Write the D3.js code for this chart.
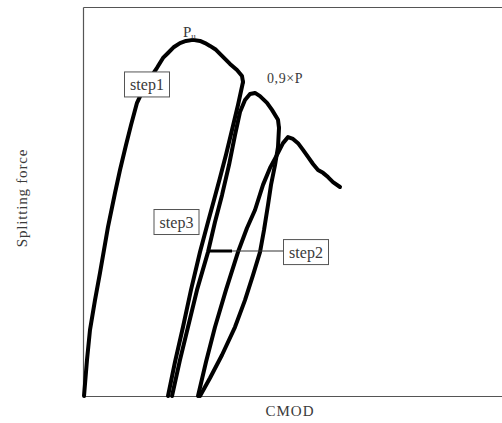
<!DOCTYPE html>
<html>
<head>
<meta charset="utf-8">
<script src="https://cdn.jsdelivr.net/npm/d3@7"></script>
<style>
  body { margin: 0; background: #fff; }
  text { font-family: "Liberation Serif", "DejaVu Serif", serif; fill: #3a3a3a; }
</style>
</head>
<body>
<div id="chart-area"></div>
<script>
// CMOD (arbitrary units) and splitting force (P / Pu)
var step1Load = [
  [0.01, 0], [0.04, 0.102], [0.07, 0.187], [0.12, 0.271], [0.17, 0.348],
  [0.21, 0.413], [0.25, 0.478], [0.32, 0.574], [0.37, 0.639], [0.43, 0.710],
  [0.48, 0.766], [0.54, 0.829], [0.60, 0.865], [0.67, 0.899], [0.74, 0.928],
  [0.80, 0.956], [0.85, 0.970], [0.91, 0.987], [0.97, 0.998], [1.03, 1.004],
  [1.10, 1.007], [1.17, 1.004], [1.22, 0.998], [1.27, 0.990], [1.33, 0.979],
  [1.40, 0.959], [1.47, 0.939], [1.54, 0.922], [1.59, 0.905], [1.60, 0.888]
];
var step1Unload = [
  [1.60, 0.888], [1.55, 0.823], [1.49, 0.752], [1.43, 0.682], [1.37, 0.617],
  [1.31, 0.554], [1.25, 0.492], [1.17, 0.407], [1.08, 0.300], [1.00, 0.195],
  [0.92, 0.096], [0.85, 0]
];
var step2Load = [
  [0.89, 0], [0.97, 0.102], [1.05, 0.195], [1.14, 0.300], [1.25, 0.407],
  [1.32, 0.492], [1.39, 0.568], [1.46, 0.653], [1.52, 0.738], [1.57, 0.803],
  [1.62, 0.837], [1.67, 0.854], [1.72, 0.857], [1.77, 0.848], [1.84, 0.829],
  [1.89, 0.809], [1.95, 0.781], [1.96, 0.758]
];
var step2Unload = [
  [1.96, 0.758], [1.95, 0.704], [1.92, 0.653], [1.88, 0.597], [1.85, 0.540],
  [1.81, 0.469], [1.77, 0.407], [1.70, 0.342], [1.62, 0.271], [1.52, 0.195],
  [1.39, 0.116], [1.27, 0.051], [1.17, 0]
];
var step3Load = [
  [1.15, 0], [1.23, 0.096], [1.32, 0.195], [1.43, 0.300], [1.55, 0.407],
  [1.64, 0.475], [1.72, 0.526], [1.80, 0.597], [1.87, 0.645], [1.94, 0.682],
  [2.00, 0.715], [2.05, 0.732], [2.10, 0.727], [2.15, 0.715], [2.20, 0.696],
  [2.25, 0.676], [2.30, 0.656], [2.35, 0.639], [2.40, 0.631], [2.45, 0.619],
  [2.50, 0.605], [2.57, 0.591]
];
var curves = [step1Load, step1Unload, step2Load, step2Unload, step3Load];

var stepLabels = ["step1", "step2", "step3"];
var xLabel = "CMOD";
var yLabel = "Splitting force";

const MARGIN = { LEFT: 83, RIGHT: 0, TOP: 7, BOTTOM: 27 }
const W = 502, H = 423
const WIDTH = W - MARGIN.LEFT - MARGIN.RIGHT
const HEIGHT = H - MARGIN.TOP - MARGIN.BOTTOM

const svg = d3.select("#chart-area").append("svg")
  .attr("width", W)
  .attr("height", H)

const g = svg.append("g")
  .attr("transform", `translate(${MARGIN.LEFT}, ${MARGIN.TOP})`)

var x = d3.scaleLinear().domain([0, 4.19]).range([0, WIDTH]);
var y = d3.scaleLinear().domain([0, 1.1]).range([HEIGHT, 0]);

// frame: no ticks
function frame(axis) {
  return axis.tickValues([]).tickSizeOuter(0);
}
g.append("g").attr("class", "frame")
  .attr("transform", "translate(0," + HEIGHT + ")")
  .call(frame(d3.axisBottom(x)));
g.append("g").attr("class", "frame")
  .call(frame(d3.axisLeft(y)));
g.append("g").attr("class", "frame")
  .call(frame(d3.axisTop(x)));
g.selectAll(".frame path").attr("stroke", "#555").attr("stroke-width", 1.2);

var line = d3.line().x(d => x(d[0])).y(d => y(d[1]));

g.selectAll(".curve")
  .data(curves)
  .enter().append("path")
  .attr("class", "curve")
  .attr("fill", "none")
  .attr("stroke", "#000")
  .attr("stroke-width", 4)
  .attr("stroke-linejoin", "round")
  .attr("stroke-linecap", "round")
  .attr("d", d => line(d));

// arrow from step2 box towards the reloading branch
g.append("line")
  .attr("x1", x(2.01)).attr("x2", x(1.25))
  .attr("y1", y(0.41)).attr("y2", y(0.41))
  .attr("stroke", "#333").attr("stroke-width", 1.2);
g.append("line")
  .attr("x1", x(1.49)).attr("x2", x(1.25))
  .attr("y1", y(0.41)).attr("y2", y(0.41))
  .attr("stroke", "#000").attr("stroke-width", 3);

// boxed step labels
var boxes = [
  { label: stepLabels[0], cx: 0.64, cy: 0.881 },
  { label: stepLabels[2], cx: 0.935, cy: 0.492 },
  { label: stepLabels[1], cx: 2.23, cy: 0.407 }
];
var bg = g.selectAll(".box").data(boxes).enter().append("g")
  .attr("class", "box")
  .attr("transform", d => `translate(${x(d.cx)},${y(d.cy)})`);
bg.append("rect")
  .attr("x", -22.5).attr("y", -12.5).attr("width", 45).attr("height", 25)
  .attr("fill", "#fff").attr("stroke", "#555").attr("stroke-width", 1);
bg.append("text")
  .attr("text-anchor", "middle").attr("dy", "0.35em")
  .attr("font-size", 16)
  .text(d => d.label);

// peak labels
var pu = g.append("text")
  .attr("x", x(1.0)).attr("y", y(1.015))
  .attr("font-size", 15);
pu.append("tspan").text("P");
pu.append("tspan").attr("font-size", 9).attr("dy", 2).text("u");

g.append("text")
  .attr("x", x(1.84)).attr("y", y(0.885))
  .attr("font-size", 14)
  .attr("letter-spacing", 0.6)
  .text("0,9×P");

// axis titles
svg.append("text")
  .attr("x", 290).attr("y", 416)
  .attr("text-anchor", "middle")
  .attr("font-size", 15)
  .attr("letter-spacing", 1)
  .text(xLabel);

svg.append("text")
  .attr("transform", "translate(27,198) rotate(-90)")
  .attr("text-anchor", "middle")
  .attr("font-size", 15)
  .attr("letter-spacing", 0.8)
  .text(yLabel);
</script>
</body>
</html>
